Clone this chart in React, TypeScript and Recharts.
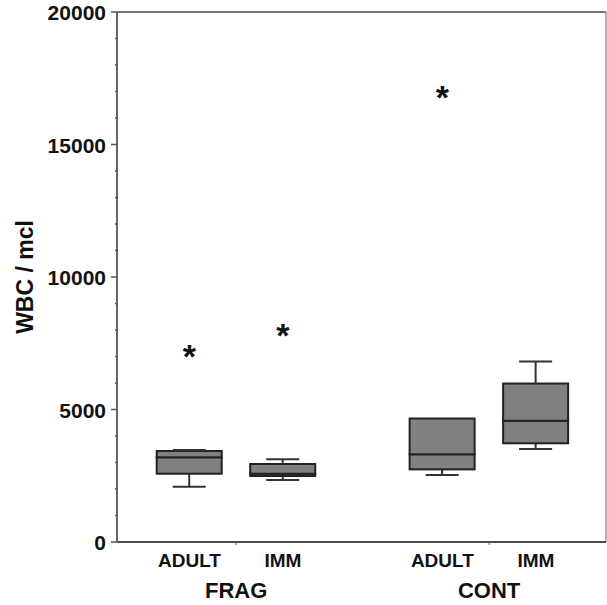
import { ComposedChart, Bar, Scatter, XAxis, YAxis, ReferenceLine } from 'recharts';

const groups = ['FRAG', 'CONT'];
const members = ['ADULT', 'IMM'];
// five-number summary per box: FRAG ADULT, FRAG IMM, CONT ADULT, CONT IMM
const mins = [2085, 2340, 2530, 3505];
const q1s = [2577, 2490, 2740, 3725];
const medians = [3196, 2577, 3310, 4575];
const q3s = [3434, 2943, 4660, 5980];
const maxs = [3472, 3120, 4660, 6810];
const outlierBox = [0, 1, 2];
const outlierValues = [7180, 7975, 16930];
const yTicks = [0, 1000, 2000, 3000, 4000, 5000, 6000, 7000, 8000, 9000, 10000, 11000, 12000, 13000, 14000, 15000, 16000, 17000, 18000, 19000, 20000];

const FONT = '"Liberation Sans", Arial, sans-serif';
const GROUP_STEP = 2.705;
const OFFSET = 0.775;
const X_MAX = 5.23;

const boxPos = (i: number) => Math.floor(i / members.length) * GROUP_STEP + (i % members.length) + OFFSET;

const boxes = mins.map((mn, i) => ({
  pos: boxPos(i),
  label: members[i % members.length],
  base: mn,
  wl: q1s[i] - mn,
  bl: medians[i] - q1s[i],
  bh: q3s[i] - medians[i],
  wh: maxs[i] - q3s[i],
}));
const outliers = outlierValues.map((v, k) => ({ pos: boxPos(outlierBox[k]), value: v }));
const groupTicks = groups.map((_, g) => g * GROUP_STEP + OFFSET + (members.length - 1) / 2);
const xTicks = [...boxes.map((b) => b.pos), ...groupTicks].sort((a, b) => a - b);

const STROKE = '#333';
const CAP = 33;

const LowerWhisker = (p: any) => {
  const cx = p.x + p.width / 2;
  const yb = p.y + p.height;
  return (
    <g stroke={STROKE} strokeWidth={2}>
      <line x1={cx} x2={cx} y1={p.y} y2={yb} />
      <line x1={cx - CAP / 2} x2={cx + CAP / 2} y1={yb} y2={yb} />
    </g>
  );
};
const UpperWhisker = (p: any) => {
  if (!p.height || p.height <= 0) return <g />;
  const cx = p.x + p.width / 2;
  return (
    <g stroke={STROKE} strokeWidth={2}>
      <line x1={cx} x2={cx} y1={p.y} y2={p.y + p.height} />
      <line x1={cx - CAP / 2} x2={cx + CAP / 2} y1={p.y} y2={p.y} />
    </g>
  );
};
const BoxPart = (p: any) => (
  <rect x={p.x} y={p.y} width={p.width} height={Math.max(p.height, 0)} fill="#808080" stroke="#222" strokeWidth={2} />
);
const Star = (p: any) => (
  <text x={p.cx} y={p.cy + 16} textAnchor="middle" fontFamily={FONT} fontWeight="bold" fontSize={34} fill="#111">*</text>
);

const YTick = ({ x, y, payload }: any) => {
  const major = payload.value % 5000 === 0;
  return (
    <g>
      <line x1={x - (major ? 6 : 2)} x2={x} y1={y} y2={y} stroke="#555" strokeWidth={1.5} />
      {major && (
        <text x={x - 11} y={y + 8} textAnchor="end" fontFamily={FONT} fontWeight="bold" fontSize={21} fill="#111">
          {payload.value}
        </text>
      )}
    </g>
  );
};
const XTick = ({ x, y, payload }: any) => {
  const g = groupTicks.findIndex((t) => Math.abs(t - payload.value) < 1e-6);
  if (g >= 0) {
    return (
      <g>
        <line x1={x} x2={x} y1={y} y2={y + 3} stroke="#555" strokeWidth={1} />
        <text x={x} y={y + 56} textAnchor="middle" fontFamily={FONT} fontWeight="bold" fontSize={22} fill="#111">
          {groups[g]}
        </text>
      </g>
    );
  }
  const b = boxes.find((d) => Math.abs(d.pos - payload.value) < 1e-6);
  return (
    <text x={x} y={y + 25} textAnchor="middle" fontFamily={FONT} fontWeight="bold" fontSize={19} fill="#111">
      {b ? b.label : ''}
    </text>
  );
};

export default function App() {
  return (
    <div style={{ position: 'absolute', left: 0, top: 0 }}>
      <ComposedChart width={607} height={605} data={boxes} margin={{ top: 12, right: 1, bottom: 0, left: 0 }}>
        <XAxis
          type="number" dataKey="pos" domain={[0, X_MAX]} ticks={xTicks} interval={0}
          height={63} tickSize={0} tickMargin={0} tickLine={false} tick={<XTick />}
          axisLine={{ stroke: '#111', strokeWidth: 1.5 }} allowDataOverflow
        />
        <YAxis
          type="number" domain={[0, 20000]} ticks={yTicks} interval={0} width={117}
          tickSize={0} tickMargin={0} tickLine={false} tick={<YTick />}
          axisLine={{ stroke: '#666', strokeWidth: 2 }}
        />
        <ReferenceLine y={20000} stroke="#777" strokeWidth={2} />
        <ReferenceLine x={X_MAX} stroke="#999" strokeWidth={1.5} />
        <Bar dataKey="base" stackId="b" barSize={65} fill="none" isAnimationActive={false} />
        <Bar dataKey="wl" stackId="b" barSize={65} shape={<LowerWhisker />} isAnimationActive={false} />
        <Bar dataKey="bl" stackId="b" barSize={65} shape={<BoxPart />} isAnimationActive={false} />
        <Bar dataKey="bh" stackId="b" barSize={65} shape={<BoxPart />} isAnimationActive={false} />
        <Bar dataKey="wh" stackId="b" barSize={65} shape={<UpperWhisker />} isAnimationActive={false} />
        <Scatter data={outliers} dataKey="value" shape={<Star />} isAnimationActive={false} />
      </ComposedChart>
      <svg width={40} height={605} style={{ position: 'absolute', left: 0, top: 0 }}>
        <text
          transform="translate(33, 277) rotate(-90)" textAnchor="middle"
          fontFamily={FONT} fontWeight="bold" fontSize={23} fill="#111"
        >
          WBC / mcl
        </text>
      </svg>
    </div>
  );
}
